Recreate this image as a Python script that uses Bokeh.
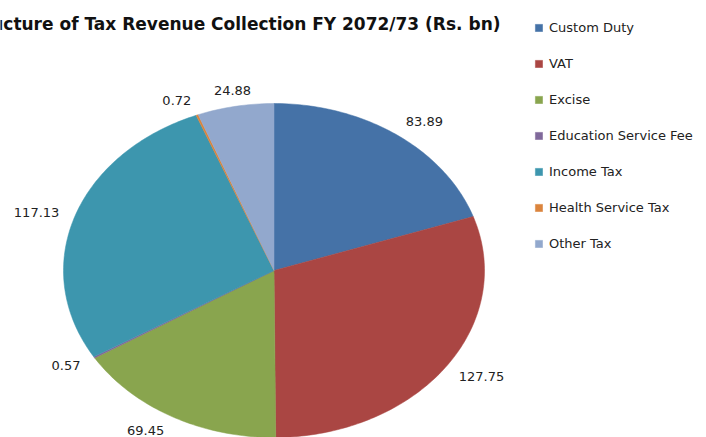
import math
from bokeh.plotting import figure
from bokeh.models import Range1d, ColumnDataSource, Legend, LegendItem
from bokeh.core.properties import value
from bokeh.embed import file_html
from bokeh.resources import INLINE

categories = ["Custom Duty", "VAT", "Excise", "Education Service Fee",
              "Income Tax", "Health Service Tax", "Other Tax"]
values = [83.89, 127.75, 69.45, 0.57, 117.13, 0.72, 24.88]
labels = ["83.89", "127.75", "69.45", "0.57", "117.13", "0.72", "24.88"]
colors = ["#4572A7", "#AA4643", "#89A54E", "#80699B", "#3D96AE", "#DB843D", "#92A8CD"]
title_text = "Structure of Tax Revenue Collection FY 2072/73 (Rs. bn)"

W, H = 706, 437
cx, cy = 273.5, 270.0
rx, ry = 210.5, 167.0

p = figure(width=W, height=H, output_backend="svg", toolbar_location=None,
           x_range=Range1d(0, W), y_range=Range1d(H, 0), min_border=0)
p.axis.visible = False
p.grid.visible = False
p.outline_line_color = None
p.background_fill_color = "white"
p.border_fill_color = "white"

total = sum(values)
cum = 0.0
renderers = []
lx, ly, lalign = [], [], []
for i, v in enumerate(values):
    a0 = cum / total * 2 * math.pi
    cum += v
    a1 = cum / total * 2 * math.pi
    n = max(3, int((a1 - a0) / (2 * math.pi) * 360))
    xs = [cx]
    ys = [cy]
    for k in range(n + 1):
        t = a0 + (a1 - a0) * k / n
        xs.append(cx + rx * math.sin(t))
        ys.append(cy - ry * math.cos(t))
    r = p.patch(xs, ys, fill_color=colors[i], line_color=colors[i], line_width=0.5)
    renderers.append(r)
    am = (a0 + a1) / 2
    s, c = math.sin(am), math.cos(am)
    ex, ey = cx + rx * s, cy - ry * c
    g = 16
    lx.append(ex + g * s)
    ly.append(ey - g * c)
    lalign.append("left" if s > 0.3 else ("right" if s < -0.3 else "center"))

src = ColumnDataSource(dict(x=lx, y=ly, t=labels, a=lalign))
p.text(x="x", y="y", text="t", text_align="a", text_baseline="middle", source=src,
       text_font=value("DejaVu Sans"), text_font_size="13px", text_color="#222222")

p.text(x=[500], y=[23], text=[title_text], text_align="right",
       text_baseline="middle", text_font=value("DejaVu Sans"), text_font_size="17px",
       text_font_style="bold", text_color="#111111")

legend = Legend(items=[LegendItem(label=categories[i], renderers=[renderers[i]])
                       for i in range(len(categories))],
                location=(534, H - 253), orientation="vertical",
                glyph_width=9, glyph_height=9, label_standoff=6,
                label_height=20, spacing=16, padding=0, margin=0,
                border_line_alpha=0, background_fill_alpha=0,
                label_text_font="DejaVu Sans", label_text_font_size="13px",
                label_text_color="#222222")
p.add_layout(legend)

open("out.html", "w").write(file_html(p, INLINE))
